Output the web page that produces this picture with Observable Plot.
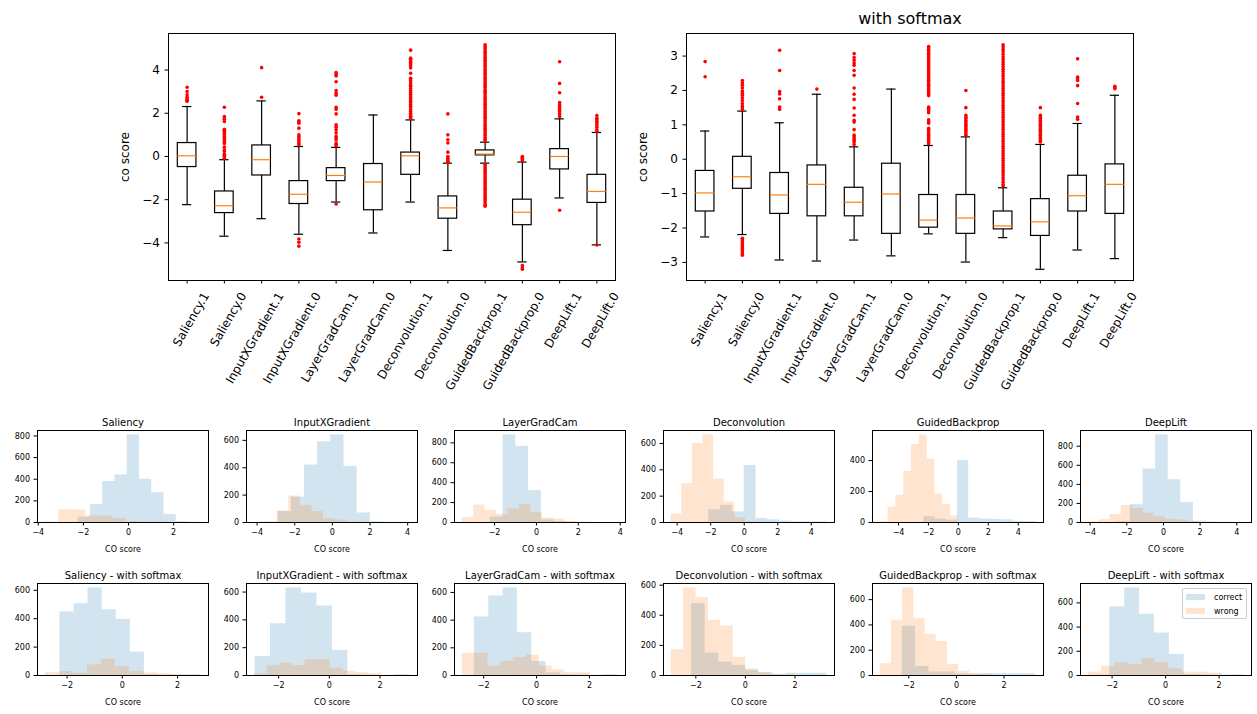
<!DOCTYPE html>
<html><head><meta charset="utf-8">
<script src="https://cdn.jsdelivr.net/npm/d3@7"></script>
<script src="https://cdn.jsdelivr.net/npm/@observablehq/plot@0.6"></script>
<style>
body{margin:0;background:#fff;font-family:"DejaVu Sans",sans-serif;}
#root{position:relative;width:1257px;height:714px;overflow:hidden;background:#fff;}
.abs{position:absolute;}
.lbl{position:absolute;white-space:nowrap;color:#000;}
</style></head>
<body><div id="root"></div>
<script>
// ---------- data ----------
const boxLabels = ["Saliency.1","Saliency.0","InputXGradient.1","InputXGradient.0","LayerGradCam.1","LayerGradCam.0","Deconvolution.1","Deconvolution.0","GuidedBackprop.1","GuidedBackprop.0","DeepLift.1","DeepLift.0"];
const methods = ["Saliency","InputXGradient","LayerGradCam","Deconvolution","GuidedBackprop","DeepLift"];
const seriesNames = ["correct","wrong"];

// boxplot without softmax
const rawQ1  = [-0.49,-2.62,-0.88,-2.20,-1.14,-2.49,-0.85,-2.88, 0.05,-3.18,-0.60,-2.15];
const rawMed = [ 0.03,-2.28,-0.15,-1.75,-0.88,-1.18, 0.03,-2.38, 0.11,-2.58, 0.00,-1.62];
const rawQ3  = [ 0.62,-1.62, 0.51,-1.14,-0.54,-0.35, 0.18,-1.85, 0.28,-2.00, 0.34,-0.85];
const rawLo  = [-2.23,-3.69,-2.88,-3.60,-2.11,-3.54,-2.11,-4.35,-0.31,-4.88,-1.92,-4.09];
const rawHi  = [ 2.31,-0.15, 2.57, 0.46, 0.42, 1.92, 1.69,-0.31, 0.66,-0.26, 1.74, 1.11];
const rawOut = [
  [3.2,3.0,2.85,2.74,2.65,2.6,2.55],
  [2.28,1.85,1.78,1.72,1.62,1.26,1.2,1.15,1.08,1.0,0.92,0.85,0.77,0.69,0.6,0.43,0.3,0.23,0.1,0.05,0.0,-0.08],
  [4.11,2.74],
  [1.98,1.65,1.6,1.54,1.31,1.0,0.92,0.85,0.77,0.69,0.6,0.54,-3.82,-3.97,-4.15],
  [3.88,3.8,3.72,3.46,3.05,2.92,2.83,2.28,2.18,1.97,1.46,1.35,1.23,1.08,0.92,0.85,0.77,0.62,0.55,0.49,-2.2],
  [],
  [1.75,1.8,1.86,1.92,2.0,2.08,2.16,2.24,2.32,2.4,2.48,2.56,2.64,2.72,2.8,2.88,2.96,3.05,3.14,3.22,3.3,3.4,3.5,3.58,3.62,3.85,4.1,4.2,4.28,4.35,4.42,4.5,4.55,4.92],
  [1.97,1.0,0.77,0.62,0.2,0.0,-0.08,-0.15,-0.22,-0.28],
  [0.72,0.8,0.88,0.97,1.05,1.14,1.22,1.3,1.4,1.48,1.56,1.65,1.74,1.82,1.9,2.0,2.08,2.17,2.25,2.33,2.42,2.5,2.6,2.68,2.76,2.85,2.94,3.02,3.1,3.2,3.28,3.36,3.45,3.54,3.62,3.7,3.8,3.88,3.97,4.05,4.14,4.22,4.3,4.4,4.48,4.56,4.65,4.74,4.82,4.9,5.0,5.08,5.17,
   -0.36,-0.44,-0.52,-0.6,-0.69,-0.77,-0.85,-0.94,-1.02,-1.1,-1.19,-1.27,-1.35,-1.44,-1.52,-1.6,-1.69,-1.77,-1.85,-1.94,-2.02,-2.1,-2.19,-2.27,-2.3],
  [0.0,-0.05,-0.1,-0.15,-0.2,-5.05,-5.15,-5.22],
  [4.38,3.38,2.95,2.49,2.38,2.28,2.18,2.08,1.97,1.85,-2.49],
  [1.89,1.77,1.7,1.62,1.55,1.46,1.35,1.23,1.15,-4.1]
];

// boxplot with softmax
const smQ1  = [-1.52,-0.86,-1.59,-1.66,-1.66,-2.17,-1.99,-2.17,-2.04,-2.23,-1.52,-1.59];
const smMed = [-0.98,-0.51,-1.04,-0.73,-1.25,-1.01,-1.77,-1.71,-1.94,-1.82,-1.06,-0.73];
const smQ3  = [-0.34, 0.07,-0.40,-0.18,-0.83,-0.13,-1.04,-1.04,-1.52,-1.16,-0.48,-0.15];
const smLo  = [-2.26,-2.19,-2.93,-2.96,-2.35,-2.81,-2.17,-2.99,-2.28,-3.20,-2.64,-2.89];
const smHi  = [ 0.82, 1.40, 1.06, 1.89, 0.36, 2.04, 0.40, 0.65,-0.83, 0.43, 1.04, 1.86];
const smOut = [
  [2.84,2.4],
  [2.29,2.22,2.15,2.07,1.98,1.92,1.86,1.79,1.71,1.62,1.55,1.52,1.45,-2.3,-2.35,-2.4,-2.45,-2.5,-2.55,-2.59,-2.64,-2.69,-2.74,-2.79],
  [3.17,2.58,1.97,1.9,1.76,1.52,1.45],
  [2.04],
  [3.07,2.96,2.88,2.8,2.73,2.58,2.44,2.07,1.89,1.74,1.49,1.28,1.13,1.08,0.86,0.7,0.65,0.6,0.55,0.5,0.43],
  [],
  [3.28,3.24,3.2,3.15,3.1,3.05,3.0,2.95,2.9,2.85,2.8,2.75,2.7,2.65,2.6,2.55,2.5,2.45,2.4,2.35,2.3,2.25,2.2,2.15,2.1,2.05,2.0,1.95,1.9,1.85,1.52,1.48,1.44,1.4,1.35,1.15,1.1,1.05,0.9,0.85,0.8,0.75,0.7,0.65,0.6,0.55,0.5,0.45],
  [2.0,1.5,1.28,1.22,1.18,1.12,1.08,1.03,0.99,0.94,0.89,0.84,0.79,0.74,0.7],
  [3.33,3.27,3.2,3.13,3.05,2.97,2.9,2.83,2.76,2.69,2.62,2.55,2.48,2.41,2.34,2.27,2.2,2.13,2.06,1.99,1.92,1.85,1.78,1.71,1.64,1.57,1.5,1.43,1.36,1.29,1.22,1.15,1.08,1.01,0.94,0.87,0.8,0.73,0.66,0.59,0.52,0.45,0.38,0.31,0.24,0.17,0.1,0.03,-0.04,-0.11,-0.18,-0.25,-0.32,-0.39,-0.46,-0.53,-0.6,-0.67,-0.74,-0.78],
  [1.5,1.28,1.22,1.18,1.12,1.08,1.03,0.99,0.94,0.89,0.84,0.79,0.74,0.7,0.65,0.6,0.55,0.5],
  [2.92,2.39,2.34,2.29,2.14,1.62,1.23,1.16],
  [2.12,2.08,2.05]
];

const yTicksRaw = [-4,-2,0,2,4];
const yTicksSm  = [-3,-2,-1,0,1,2,3];

// histogram counts (10 bins each, bins span each series' min..max)
const histCorrectRaw = [
  [50,165,380,440,810,400,275,75,8,2],
  [80,185,420,590,640,410,70,5,1,1],
  [55,880,765,320,25,8,4,2,1,1],
  [97,130,80,433,30,20,12,6,5,5],
  [37,22,15,400,28,22,20,17,8,6],
  [8,186,561,919,449,210,14,5,2,1]
];
const histWrongRaw = [
  [5,118,115,60,60,38,8,4,3,1],
  [3,8,86,193,125,80,28,18,5,2],
  [50,175,120,80,135,182,100,45,35,8],
  [65,295,600,665,330,155,35,5,2,1],
  [5,100,177,330,503,566,410,184,117,43],
  [7,30,84,179,147,98,60,35,28,10]
];
const histCorrectSm = [
  [447,506,617,463,395,165,5,2,2,7],
  [136,372,630,593,500,181,5,2,1,7],
  [423,575,633,309,101,19,5,3,2,7],
  [478,149,89,67,33,18,7,15,15,15],
  [389,71,28,28,13,10,14,14,14,14],
  [3,567,724,506,351,174,8,4,4,6]
];
const histWrongSm = [
  [20,28,14,75,115,63,28,19,12,7],
  [12,70,89,72,113,113,52,30,20,12],
  [160,160,68,103,130,148,68,40,20,20],
  [171,582,518,367,329,120,44,18,7,4],
  [93,437,693,450,325,270,87,34,16,10],
  [28,77,105,91,138,105,55,28,28,20]
];

// ---------- drawing ----------
const root = document.getElementById("root");
const FONT = "DejaVu Sans";
const C0 = "#1f77b4", C1 = "#ff7f0e";
const intFmt = d3.format("d");

function place(el, left, top) {
  el.classList.add("abs");
  el.style.left = left + "px";
  el.style.top = top + "px";
  root.appendChild(el);
}
function label(text, x, y, size, rotate) {
  const d = document.createElement("div");
  d.className = "lbl";
  d.textContent = text;
  d.style.left = x + "px";
  d.style.top = y + "px";
  d.style.fontSize = size + "px";
  d.style.fontFamily = FONT;
  d.style.transform = "translate(-50%,-50%)" + (rotate ? " rotate(" + rotate + "deg)" : "");
  root.appendChild(d);
}

function boxplot(q1, med, q3, lo, hi, outs, yTicks, svgLeft, frameLeft) {
  const boxes = boxLabels.map((name, i) => ({x: i + 1, q1: q1[i], med: med[i], q3: q3[i], lo: lo[i], hi: hi[i]}));
  const dots = outs.flatMap((arr, i) => arr.map(v => ({x: i + 1, y: v})));
  const all = boxes.flatMap(b => [b.lo, b.hi]).concat(dots.map(d => d.y));
  const mn = d3.min(all), mx = d3.max(all), pad = (mx - mn) * 0.05;
  const frameW = 447;
  const marginLeft = frameLeft - svgLeft;
  const pos = boxes.map(b => b.x);
  const line = {stroke: "black", strokeWidth: 1.2};
  const svg = Plot.plot({
    width: marginLeft + frameW + 25, height: 400,
    marginLeft, marginRight: 25, marginTop: 33, marginBottom: 120,
    style: {background: "transparent", overflow: "visible", fontFamily: FONT, fontSize: "12px", color: "black"},
    x: {domain: [0.5, 12.5]},
    y: {domain: [mn - pad, mx + pad]},
    marks: [
      Plot.ruleX(boxes, {x: "x", y1: "hi", y2: "q3", ...line}),
      Plot.ruleX(boxes, {x: "x", y1: "q1", y2: "lo", ...line}),
      Plot.ruleY(boxes, {y: "hi", x1: d => d.x - 0.125, x2: d => d.x + 0.125, ...line}),
      Plot.ruleY(boxes, {y: "lo", x1: d => d.x - 0.125, x2: d => d.x + 0.125, ...line}),
      Plot.rect(boxes, {x1: d => d.x - 0.25, x2: d => d.x + 0.25, y1: "q1", y2: "q3", fill: "none", ...line}),
      Plot.ruleY(boxes, {y: "med", x1: d => d.x - 0.25, x2: d => d.x + 0.25, stroke: C1, strokeWidth: 1.2}),
      Plot.dot(dots, {x: "x", y: "y", r: 1.8, fill: "red", stroke: "none"}),
      Plot.frame({stroke: "black", strokeWidth: 1}),
      Plot.axisY({ticks: yTicks, tickSize: 3.5, tickPadding: 5, label: null, fontSize: 12, tickFormat: intFmt}),
      Plot.axisX({ticks: pos, tickSize: 3.5, tickFormat: () => "", label: null}),
      Plot.axisX({ticks: pos, tickSize: 0, tickPadding: 13, tickRotate: -60, dx: 19, tickFormat: i => boxLabels[i - 1], label: null, fontSize: 12})
    ]
  });
  place(svg, svgLeft, 0);
}

boxplot(rawQ1, rawMed, rawQ3, rawLo, rawHi, rawOut, yTicksRaw, 0, 168);
boxplot(smQ1, smMed, smQ3, smLo, smHi, smOut, yTicksSm, 640, 686);
label("co score", 125, 157, 12, -90);
label("co score", 643, 157, 12, -90);
label("with softmax", 910, 18, 16);

// histograms
const frameLefts = [37, 246, 454, 663, 872, 1080];
const rowTops = [430, 583];
const FW = 171, FH = 92;

function extentOf(lo, hi, outs, j) {
  const vals = [lo[j], hi[j], ...outs[j]];
  return [d3.min(vals), d3.max(vals)];
}

function hist(idx, row) {
  const isSm = row === 1;
  const lo = isSm ? smLo : rawLo, hi = isSm ? smHi : rawHi, outs = isSm ? smOut : rawOut;
  const counts = [isSm ? histCorrectSm[idx] : histCorrectRaw[idx], isSm ? histWrongSm[idx] : histWrongRaw[idx]];
  const bars = [];
  const exts = [extentOf(lo, hi, outs, 2 * idx), extentOf(lo, hi, outs, 2 * idx + 1)];
  seriesNames.forEach((s, k) => {
    const [a, b] = exts[k];
    const w = (b - a) / 10;
    counts[k].forEach((c, i) => bars.push({series: s, x1: a + i * w, x2: a + (i + 1) * w, count: c}));
  });
  const xmin = d3.min(exts, e => e[0]), xmax = d3.max(exts, e => e[1]);
  const pad = (xmax - xmin) * 0.05;
  const dom = [xmin - pad, xmax + pad];
  const ymax = d3.max(bars, d => d.count) * 1.05;
  const xt = d3.range(Math.ceil(dom[0] / 2) * 2, dom[1] + 1e-9, 2);
  const yt = d3.range(0, ymax, 200);
  const mL = 32, mT = 22, mB = 36, mR = 6;
  const title = methods[idx] + (isSm ? " - with softmax" : "");
  const marks = [
    Plot.rectY(bars.filter(d => d.series === "correct"), {x1: "x1", x2: "x2", y: "count", fill: C0, fillOpacity: 0.2}),
    Plot.rectY(bars.filter(d => d.series === "wrong"), {x1: "x1", x2: "x2", y: "count", fill: C1, fillOpacity: 0.2}),
    Plot.frame({stroke: "black", strokeWidth: 1}),
    Plot.axisX({ticks: xt, tickSize: 3.5, tickPadding: 3, label: null, fontSize: 8, tickFormat: intFmt}),
    Plot.axisY({ticks: yt, tickSize: 3.5, tickPadding: 4, label: null, fontSize: 8, tickFormat: intFmt}),
    Plot.text([title], {text: d => d, frameAnchor: "top", dy: -12, fontSize: 10}),
    Plot.text(["CO score"], {text: d => d, frameAnchor: "bottom", dy: 29, fontSize: 8})
  ];
  const svg = Plot.plot({
    width: mL + FW + mR, height: mT + FH + mB,
    marginLeft: mL, marginRight: mR, marginTop: mT, marginBottom: mB,
    style: {background: "transparent", overflow: "visible", fontFamily: FONT, fontSize: "8px", color: "black"},
    x: {domain: dom},
    y: {domain: [0, ymax]},
    marks
  });
  place(svg, frameLefts[idx] - mL, rowTops[row] - mT);
}
for (let r = 0; r < 2; r++) for (let i = 0; i < 6; i++) hist(i, r);

// legend in last panel
const leg = document.createElement("div");
leg.style.cssText = "position:absolute;left:1182px;top:588px;width:63px;height:29px;border:1px solid #cccccc;border-radius:2px;background:rgba(255,255,255,0.8);font-family:'DejaVu Sans';font-size:8px;";
seriesNames.forEach((s, k) => {
  const row = document.createElement("div");
  row.style.cssText = "position:absolute;left:3px;top:" + (3 + k * 14) + "px;height:10px;display:flex;align-items:center;";
  const sw = document.createElement("span");
  sw.style.cssText = "display:inline-block;width:19px;height:6px;background:" + (k === 0 ? "rgba(31,119,180,0.2)" : "rgba(255,127,14,0.2)") + ";margin-right:9px;";
  const tx = document.createElement("span");
  tx.textContent = s;
  row.appendChild(sw); row.appendChild(tx);
  leg.appendChild(row);
});
root.appendChild(leg);
</script>
</body></html>
